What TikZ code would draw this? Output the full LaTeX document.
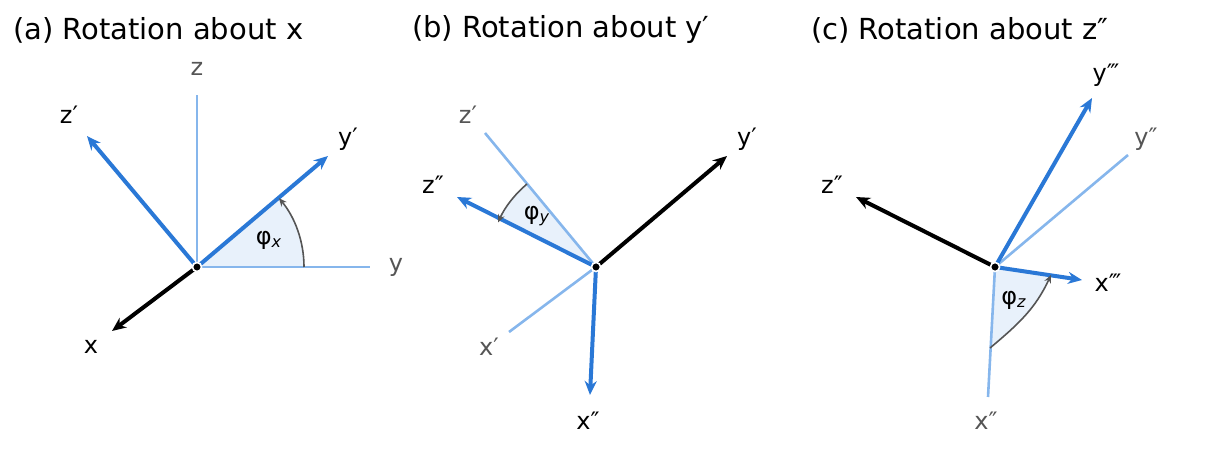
\documentclass[tikz,border=0pt]{standalone}
\usepackage{fontspec}
\setmainfont{DejaVu Sans}
\usetikzlibrary{arrows.meta,calc}
\definecolor{axblue}{HTML}{2A78D6}
\definecolor{axlight}{HTML}{86B6EC}
\definecolor{wedge}{HTML}{E8F1FB}
\definecolor{labgray}{HTML}{555555}
\tikzset{
	old axis/.style={axlight,line width=1.3pt},
	new axis/.style={axblue,line width=2pt,-{Stealth[length=7pt,width=6pt]}},
	fixed axis/.style={black,line width=2pt,-{Stealth[length=7pt,width=6pt]}},
	lab/.style={font=\fontsize{12}{14}\selectfont},
	old lab/.style={lab,text=labgray},
	title/.style={font=\fontsize{14.5}{17}\selectfont,anchor=west},
	angle arc/.style={labgray,line width=0.8pt,-{Stealth[length=4pt,width=3.5pt]}},
	origin/.style={circle,fill=black,draw=white,line width=0.8pt,inner sep=1.6pt}
}
\newcommand{\phisub}[1]{φ\textsubscript{\itshape #1}}
\begin{document}
\begin{tikzpicture}[x=0.5pt,y=-0.5pt]
  \useasboundingbox (0,0) rectangle (1209,464);
  % (a) rotation about x
  \node[title] (ta) at (6,30) {(a) Rotation about x};
  \coordinate (oa) at (197,267);
  \coordinate (za) at (197,95);
  \coordinate (ya) at (370,267);
  \coordinate (zpa) at (87,136);
  \coordinate (ypa) at (328,156);
  \coordinate (xa) at (112,331);
  \fill[wedge] (oa) -- (304,267) arc[start angle=0,end angle=-40,radius=107] -- cycle;
  \draw[old axis] (oa) -- (za);
  \draw[old axis] (oa) -- (ya);
  \draw[new axis] (oa) -- (zpa);
  \draw[new axis] (oa) -- (ypa);
  \draw[fixed axis] (oa) -- (xa);
  \draw[angle arc] (304,267) arc[start angle=0,end angle=-40,radius=107];
  \node[old lab] (lza) at (197,69) {z};
  \node[old lab] (lya) at (396,267) {y};
  \node[lab] (lzpa) at (69,115) {z′};
  \node[lab] (lypa) at (348,139) {y′};
  \node[lab] (lxa) at (91,347) {x};
  \node[lab] (pa) at (269,240) {\phisub{x}};
  \node[origin] at (oa) {};
  % (b) rotation about y'
  \node[title] (tb) at (405,30) {(b) Rotation about y′};
  \coordinate (ob) at (596,267);
  \coordinate (zpb) at (485,133);
  \coordinate (xpb) at (509,332);
  \coordinate (ypb) at (727,156);
  \coordinate (zppb) at (457,197);
  \coordinate (xppb) at (590,395);
  \fill[wedge] (ob) -- (527,184) arc[start angle=-130,end angle=-154,radius=107] -- cycle;
  \draw[old axis] (ob) -- (zpb);
  \draw[old axis] (ob) -- (xpb);
  \draw[fixed axis] (ob) -- (ypb);
  \draw[new axis] (ob) -- (zppb);
  \draw[new axis] (ob) -- (xppb);
  \draw[angle arc] (527,184) arc[start angle=-130,end angle=-156,radius=107];
  \node[old lab] (lzpb) at (468,115) {z′};
  \node[old lab] (lxpb) at (489,347) {x′};
  \node[lab] (lypb) at (747,139) {y′};
  \node[lab] (lzppb) at (433,185) {z″};
  \node[lab] (lxppb) at (588,421) {x″};
  \node[lab] (pb) at (537,216) {\phisub{y}};
  \node[origin] at (ob) {};
  % (c) rotation about z''
  \node[title] (tc) at (804,30) {(c) Rotation about z″};
  \coordinate (oc) at (995,267);
  \coordinate (zppc) at (856,197);
  \coordinate (yppc) at (1128,155);
  \coordinate (xppc) at (988,397);
  \coordinate (ypppc) at (1092,98);
  \coordinate (xpppc) at (1082,280);
  \coordinate (arc1) at (990,348);
  \coordinate (arc2) at (1051,275);
  \fill[wedge] (oc) -- (arc1) to[out=40,in=-115] (arc2) -- cycle;
  \draw[old axis] (oc) -- (yppc);
  \draw[old axis] (oc) -- (xppc);
  \draw[fixed axis] (oc) -- (zppc);
  \draw[new axis] (oc) -- (ypppc);
  \draw[new axis] (oc) -- (xpppc);
  \draw[angle arc] (arc1) to[out=40,in=-115] (arc2);
  \node[old lab] (lyppc) at (1146,139) {y″};
  \node[old lab] (lxppc) at (986,421) {x″};
  \node[lab] (lzppc) at (832,185) {z″};
  \node[lab] (lypppc) at (1106,75) {y‴};
  \node[lab] (lxpppc) at (1108,283) {x‴};
  \node[lab] (pc) at (1014,300) {\phisub{z}};
  \node[origin] at (oc) {};
\end{tikzpicture}
\end{document}
